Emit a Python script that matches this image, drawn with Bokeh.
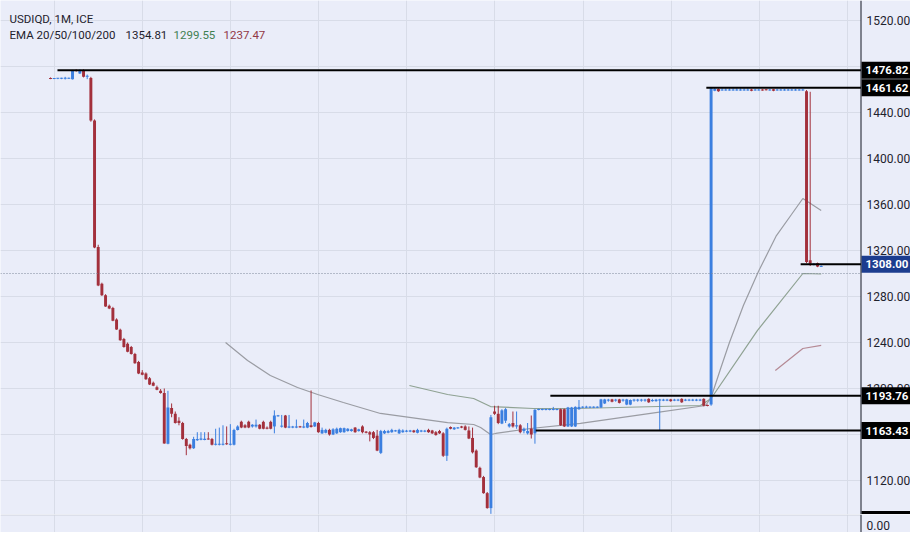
from bokeh.plotting import figure
from bokeh.models import Range1d, FixedTicker, Label, Span, ColumnDataSource
from bokeh.core.properties import value
from bokeh.layouts import column
from bokeh.embed import file_html
from bokeh.resources import INLINE

# ---------------- data (monthly USDIQD candles) ----------------
opens = [
    1470.0, 1469.3, 1469.5, 1469.5, 1469.5, 1469.6, 1469.0, 1477.0, 1474.0, 1477.0,
    1471.0, 1470.0, 1433.0, 1323.0, 1291.0, 1281.0, 1272.0, 1270.0, 1260.0, 1251.0,
    1243.0, 1239.0, 1236.0, 1230.0, 1223.0, 1214.0, 1213.0, 1209.0, 1205.0, 1201.0,
    1198.0, 1196.0, 1152.0, 1183.0, 1178.0, 1172.0, 1170.0, 1156.0, 1151.0, 1148.0,
    1155.0, 1155.5, 1155.5, 1156.5, 1156.0, 1151.0, 1151.0, 1151.0, 1152.5, 1151.0,
    1151.0, 1164.0, 1171.0, 1168.0, 1171.0, 1167.0, 1167.0, 1168.5, 1171.0, 1166.0,
    1171.0, 1167.0, 1176.0, 1167.0, 1176.5, 1166.0, 1166.0, 1166.0, 1167.0, 1166.0,
    1166.0, 1168.0, 1167.0, 1170.0, 1161.0, 1161.5, 1164.0, 1160.0, 1161.0, 1162.0,
    1162.0, 1163.0, 1163.0, 1166.0, 1163.0, 1167.0, 1162.5, 1162.0, 1162.0, 1159.0,
    1144.0, 1161.0, 1161.5, 1162.0, 1163.0, 1161.0, 1162.0, 1162.5, 1162.5, 1163.5,
    1161.5, 1162.5, 1162.5, 1164.0, 1163.5, 1162.0, 1163.0, 1161.0, 1141.5, 1166.5,
    1164.5, 1165.5, 1167.0, 1167.0, 1163.5, 1157.0, 1146.0, 1131.0, 1123.0, 1109.0,
    1096.0, 1180.0, 1178.0, 1169.5, 1172.0, 1167.0, 1170.0, 1167.0, 1168.0, 1163.0,
    1161.0, 1165.0, 1161.0, 1181.5, 1181.5, 1181.5, 1181.5, 1181.5, 1181.5, 1182.0,
    1182.0, 1167.0, 1167.0, 1167.0, 1182.0, 1183.5, 1183.5, 1183.5, 1183.5, 1183.5,
    1183.5, 1187.0, 1189.5, 1190.5, 1189.5, 1190.5, 1189.5, 1186.0, 1186.0, 1189.5,
    1189.5, 1189.5, 1189.5, 1191.0, 1189.0, 1189.0, 1189.5, 1189.5, 1189.5, 1190.5,
    1189.5, 1189.5, 1191.0, 1189.5, 1189.5, 1189.5, 1189.5, 1189.5, 1191.0, 1185.5,
    1186.0, 1459.0, 1460.5, 1459.2, 1459.2, 1459.2, 1459.2, 1459.2, 1459.2, 1459.2,
    1459.2, 1460.0, 1459.3, 1459.3, 1460.0, 1460.0, 1459.3, 1460.2, 1459.3, 1459.3,
    1459.3, 1459.3, 1459.3, 1459.3, 1459.3, 1459.3, 1458.5, 1311.5, 1307.5, 1309.0,
    1306.0,
]
highs = [
    1470.5, 1470.0, 1470.0, 1470.2, 1471.0, 1470.3, 1477.0, 1477.5, 1477.5, 1477.5,
    1473.0, 1471.0, 1434.0, 1325.0, 1292.0, 1282.0, 1273.0, 1271.0, 1261.0, 1252.0,
    1244.0, 1240.0, 1237.0, 1231.0, 1224.0, 1216.0, 1214.0, 1210.0, 1206.0, 1202.5,
    1199.5, 1200.0, 1198.0, 1187.0, 1180.0, 1175.0, 1171.0, 1157.0, 1152.0, 1158.0,
    1162.0, 1162.0, 1162.0, 1162.0, 1157.0, 1165.0, 1166.0, 1168.0, 1167.0, 1169.0,
    1165.0, 1168.0, 1172.0, 1169.0, 1172.0, 1169.0, 1173.0, 1169.0, 1172.0, 1167.0,
    1172.0, 1181.0, 1177.0, 1177.0, 1177.0, 1177.0, 1167.5, 1173.0, 1167.5, 1173.0,
    1171.0, 1198.3, 1171.0, 1171.0, 1166.0, 1165.0, 1165.0, 1165.5, 1166.0, 1166.0,
    1166.0, 1165.5, 1165.0, 1166.5, 1165.0, 1168.0, 1163.0, 1163.0, 1163.0, 1164.0,
    1164.0, 1164.0, 1164.0, 1165.0, 1164.0, 1165.0, 1164.5, 1164.0, 1164.0, 1164.0,
    1165.0, 1164.0, 1164.0, 1165.0, 1164.0, 1163.0, 1164.0, 1162.0, 1166.0, 1167.0,
    1166.5, 1166.5, 1167.5, 1168.0, 1167.0, 1166.0, 1147.0, 1132.0, 1124.0, 1110.0,
    1177.0, 1185.0, 1185.0, 1182.0, 1183.0, 1170.0, 1180.0, 1180.0, 1169.0, 1166.0,
    1170.0, 1176.5, 1182.0, 1182.5, 1182.5, 1182.5, 1182.5, 1184.0, 1182.5, 1182.5,
    1182.5, 1184.0, 1184.0, 1184.5, 1190.0, 1184.5, 1185.0, 1184.5, 1184.5, 1184.5,
    1191.0, 1191.0, 1191.0, 1191.0, 1191.0, 1191.0, 1191.0, 1191.0, 1190.5, 1191.0,
    1191.0, 1191.0, 1191.0, 1191.5, 1191.0, 1191.0, 1191.0, 1191.0, 1191.0, 1191.0,
    1191.0, 1191.0, 1191.5, 1191.0, 1191.0, 1191.0, 1191.0, 1191.0, 1191.5, 1186.0,
    1462.0, 1462.0, 1461.0, 1461.0, 1461.0, 1461.0, 1461.0, 1461.0, 1461.0, 1461.0,
    1461.0, 1460.5, 1460.5, 1460.5, 1460.3, 1460.3, 1460.5, 1460.5, 1460.5, 1460.5,
    1460.5, 1460.5, 1460.5, 1460.5, 1460.5, 1460.5, 1459.5, 1458.0, 1309.0, 1309.5,
    1307.0,
]
lows = [
    1469.0, 1469.0, 1469.0, 1469.0, 1468.7, 1469.2, 1468.7, 1475.5, 1473.5, 1470.5,
    1469.0, 1432.0, 1322.0, 1289.0, 1280.5, 1271.0, 1269.0, 1258.5, 1251.0, 1241.5,
    1235.5, 1231.5, 1229.5, 1221.5, 1212.5, 1211.5, 1207.5, 1203.0, 1202.0, 1198.5,
    1195.5, 1152.0, 1151.5, 1175.0, 1169.5, 1168.0, 1155.5, 1142.0, 1147.0, 1147.5,
    1154.5, 1155.0, 1155.0, 1155.5, 1150.5, 1150.5, 1150.5, 1150.5, 1151.0, 1150.5,
    1150.5, 1163.5, 1165.5, 1165.5, 1165.5, 1166.0, 1166.0, 1164.5, 1164.5, 1164.5,
    1164.5, 1161.0, 1175.5, 1166.0, 1165.5, 1165.5, 1165.5, 1165.5, 1166.0, 1165.5,
    1165.5, 1166.0, 1166.5, 1161.5, 1160.5, 1161.0, 1159.0, 1159.5, 1160.5, 1161.5,
    1161.5, 1162.5, 1162.5, 1161.5, 1162.5, 1161.0, 1161.0, 1154.0, 1156.0, 1145.5,
    1143.0, 1160.5, 1161.0, 1161.5, 1162.5, 1160.5, 1161.5, 1162.0, 1162.0, 1161.5,
    1161.0, 1162.0, 1162.0, 1161.5, 1160.5, 1159.0, 1160.5, 1140.5, 1137.0, 1164.5,
    1164.0, 1165.0, 1165.5, 1163.5, 1156.0, 1143.5, 1131.0, 1122.0, 1108.5, 1095.5,
    1091.0, 1177.0, 1169.0, 1169.0, 1170.0, 1166.0, 1166.0, 1165.0, 1161.0, 1161.0,
    1160.0, 1156.5, 1152.0, 1181.0, 1181.0, 1181.0, 1181.0, 1181.0, 1181.0, 1167.5,
    1166.5, 1166.5, 1166.5, 1166.5, 1181.5, 1183.0, 1183.0, 1183.0, 1183.0, 1183.0,
    1183.0, 1186.5, 1188.5, 1188.0, 1188.5, 1187.0, 1188.5, 1185.5, 1185.5, 1188.5,
    1188.5, 1188.5, 1188.5, 1187.5, 1188.5, 1188.5, 1163.5, 1189.0, 1189.0, 1188.5,
    1189.0, 1189.0, 1187.5, 1189.0, 1189.0, 1189.0, 1189.0, 1189.0, 1184.5, 1184.5,
    1185.0, 1458.5, 1458.0, 1459.0, 1459.0, 1459.0, 1459.0, 1459.0, 1459.0, 1459.0,
    1459.0, 1458.5, 1459.0, 1459.0, 1459.0, 1459.2, 1459.0, 1458.5, 1459.0, 1459.0,
    1459.0, 1459.0, 1459.0, 1459.0, 1459.0, 1459.0, 1309.0, 1306.5, 1307.0, 1305.5,
    1305.8,
]
closes = [
    1469.3, 1469.8, 1469.9, 1470.0, 1470.0, 1470.1, 1476.5, 1476.0, 1476.8, 1471.0,
    1472.0, 1433.0, 1322.6, 1289.6, 1281.0, 1271.3, 1269.6, 1259.0, 1251.3, 1242.0,
    1236.0, 1232.0, 1230.0, 1222.0, 1213.0, 1212.0, 1208.0, 1203.5, 1202.5, 1199.0,
    1196.0, 1152.2, 1183.5, 1178.0, 1170.0, 1170.0, 1156.0, 1150.0, 1148.0, 1156.0,
    1156.0, 1156.5, 1156.0, 1155.8, 1151.0, 1152.0, 1152.0, 1152.0, 1151.5, 1152.0,
    1164.0, 1167.0, 1166.0, 1166.0, 1166.0, 1168.5, 1168.5, 1165.0, 1165.0, 1165.0,
    1165.0, 1176.5, 1176.5, 1167.5, 1166.0, 1167.0, 1167.0, 1167.0, 1166.3, 1167.0,
    1170.0, 1166.5, 1170.5, 1162.0, 1164.0, 1164.0, 1160.0, 1164.5, 1165.0, 1165.5,
    1165.5, 1165.0, 1164.5, 1162.0, 1164.5, 1162.0, 1161.5, 1160.0, 1157.0, 1146.0,
    1163.0, 1163.0, 1163.0, 1164.0, 1163.3, 1164.0, 1163.5, 1163.3, 1163.5, 1162.0,
    1164.0, 1163.5, 1163.3, 1162.0, 1161.0, 1159.5, 1161.0, 1141.5, 1165.0, 1165.0,
    1166.0, 1166.0, 1166.0, 1164.0, 1156.5, 1144.5, 1131.5, 1122.6, 1109.0, 1096.0,
    1175.0, 1178.0, 1170.0, 1181.0, 1182.0, 1169.0, 1167.0, 1168.0, 1162.0, 1165.0,
    1163.0, 1160.0, 1181.5, 1182.0, 1182.0, 1182.0, 1182.0, 1182.0, 1182.0, 1168.0,
    1167.0, 1183.5, 1183.5, 1184.0, 1184.0, 1184.0, 1184.0, 1184.0, 1184.0, 1184.0,
    1190.5, 1190.5, 1190.3, 1188.5, 1190.3, 1187.5, 1190.3, 1190.5, 1190.0, 1190.3,
    1190.3, 1190.3, 1190.3, 1188.0, 1190.0, 1190.3, 1190.5, 1190.3, 1190.3, 1189.0,
    1190.3, 1190.3, 1188.0, 1190.3, 1190.3, 1190.3, 1190.3, 1190.3, 1185.0, 1185.0,
    1461.0, 1460.5, 1458.5, 1460.0, 1460.0, 1460.0, 1460.0, 1460.0, 1460.0, 1460.0,
    1460.0, 1459.0, 1460.0, 1460.0, 1459.3, 1459.5, 1460.0, 1459.0, 1460.0, 1460.0,
    1460.0, 1460.0, 1460.0, 1460.0, 1460.0, 1460.0, 1310.0, 1308.5, 1308.5, 1306.0,
    1306.3,
]

# EMA lines (bar index, value) as drawn
ema50_x = [47.7, 53.7, 59.9, 67.3, 72.8, 79.8, 89.9, 108.2, 115.3, 117.2, 119.9, 121.3,
           130.8, 144.4, 163.5, 178.5, 180, 182.6, 185.0, 188.8, 192.9, 197.8, 201.9, 205, 210]
ema50_y = [1240.0, 1224.3, 1211.3, 1200.9, 1194.8, 1187.8, 1178.3, 1170.4, 1168.7, 1166.1,
           1160.0, 1160.9, 1165.2, 1169.6, 1178.3, 1185.2, 1192.2, 1217.4, 1240.0, 1272.2,
           1301.7, 1333.0, 1351.3, 1365.2, 1354.81]
ema100_x = [97.8, 108.2, 115.3, 119.9, 131.6, 143.1, 177.1, 180, 192.6, 205, 210]
ema100_y = [1202.6, 1194.8, 1191.3, 1184.3, 1182.6, 1182.6, 1185.2, 1191.3, 1250.4, 1300.0, 1299.55]
ema200_x = [197.5, 205, 210]
ema200_y = [1215.7, 1234.8, 1237.47]

# horizontal levels drawn on the chart (value, first bar index)
level_values = [1476.82, 1461.62, 1308.00, 1193.76, 1163.43]
level_starts = [1.9, 178.7, 204.4, 136.2, 132.2]
level_box_colors = ["#000000", "#000000", "#1c3d8f", "#000000", "#000000"]
low_level = 1086.0
last_price = 1300.0

price_ticks = [1120, 1160, 1200, 1240, 1280, 1320, 1360, 1400, 1440, 1480, 1520]
time_grid = [1.1, 25.1, 49.1, 73.1, 97.1, 121.1, 145.1, 169.1, 193.1, 217.1]

title_text = "USDIQD, 1M, ICE"
ema_title = "EMA 20/50/100/200"
ema_last = ["1354.81", "1299.55", "1237.47"]

# ---------------- styling ----------------
BG = "#eaedf9"
GRID = "#d8dce8"
UP = "#3b7fe0"
DOWN = "#a3303c"
TEXT = "#1e222d"
AXIS = "#131722"
FONT = "Roboto"

W, H_TOP, H_BOT = 910, 514, 18
X0, DX = 50.0, 3.67            # pixel of bar 0, pixels per bar
def px_x(px):
    return (px - X0) / DX
def px_y(py):
    return 1520 - (py - 20) / 1.15
U = 1 / 1.15                   # price units per pixel

x_rng = Range1d(px_x(0), px_x(W))
AX = px_x(860.5)               # price-scale border
LBL = px_x(866)                # price-scale text start

def base_fig(h, yr):
    f = figure(frame_width=W, frame_height=h, x_range=x_rng, y_range=yr,
               x_axis_location=None, y_axis_location=None,
               output_backend="svg", toolbar_location=None,
               min_border=0, min_border_left=0, min_border_right=0,
               min_border_top=0, min_border_bottom=0,
               background_fill_color=BG, border_fill_color=BG, outline_line_color=None)
    f.xgrid.ticker = FixedTicker(ticks=time_grid)
    f.xgrid.grid_line_color = GRID
    f.ygrid.visible = False
    f.add_layout(Span(location=AX, dimension="height", line_color=AXIS, line_width=1))
    return f

p = base_fig(H_TOP, Range1d(px_y(H_TOP), px_y(0)))

# horizontal grid (chart area only)
p.segment(x0=[px_x(0)] * len(price_ticks), x1=[AX] * len(price_ticks),
          y0=price_ticks, y1=price_ticks, line_color=GRID, line_width=1)

# EMA lines
p.line(ema50_x, ema50_y, line_color="#9a9ca3", line_width=1.2)
p.line(ema100_x, ema100_y, line_color="#8fa293", line_width=1.2)
p.line(ema200_x, ema200_y, line_color="#b58a95", line_width=1.2)

# candles
n = len(opens)
idx = list(range(n))
colors = [UP if c >= o else DOWN for o, c in zip(opens, closes)]
tops, bots = [], []
for o, c in zip(opens, closes):
    hi, lo = max(o, c), min(o, c)
    if hi - lo < 0.9:
        mid = (hi + lo) / 2
        hi, lo = mid + 0.45, mid - 0.45
    tops.append(hi)
    bots.append(lo)
src = ColumnDataSource(dict(x=idx, h=highs, l=lows, t=tops, b=bots, c=colors))
p.segment(x0="x", y0="h", x1="x", y1="l", line_color="c", line_width=1, source=src)
p.vbar(x="x", width=0.8, top="t", bottom="b", fill_color="c", line_color=None, source=src)

# drawn horizontal levels and last-price line
p.segment(x0=level_starts, y0=level_values, x1=[AX] * len(level_values), y1=level_values,
          line_color="black", line_width=2)
p.segment(x0=[px_x(0)], y0=[last_price], x1=[AX], y1=[last_price],
          line_color="#7d8799", line_dash="1 2", line_width=1)

# price scale: tick labels
p.text(x=[LBL] * len(price_ticks), y=price_ticks, text=[f"{t:.2f}" for t in price_ticks],
       text_font=value(FONT), text_font_size="12px", text_color=TEXT,
       text_baseline="middle", text_align="left")

# price scale: level boxes
p.quad(left=[px_x(861)] * len(level_values), right=[px_x(920)] * len(level_values),
       top=[v + 8.5 * U for v in level_values], bottom=[v - 8.5 * U for v in level_values],
       fill_color=level_box_colors, line_color=None)
p.text(x=[px_x(865)] * len(level_values), y=level_values,
       text=[f"{v:.2f}" for v in level_values],
       text_font=value(FONT), text_font_size="11.5px", text_font_style="bold",
       text_color="white", text_baseline="middle", text_align="left")
# low box, mostly hidden below the pane edge
p.quad(left=[px_x(861)], right=[px_x(920)], top=[low_level + 8.5 * U],
       bottom=[low_level - 8.5 * U], fill_color="#000000", line_color=None)

# legend texts
p.add_layout(Label(x=px_x(9), y=px_y(18), text=title_text, text_color=TEXT,
                   text_font=FONT, text_font_size="11.5px",
                   text_baseline="middle", text_align="left"))
p.add_layout(Label(x=px_x(9), y=px_y(34), text=ema_title, text_color=TEXT,
                   text_font=FONT, text_font_size="11.5px",
                   text_baseline="middle", text_align="left"))
for px, txt, col in zip([125, 173, 223], ema_last, [TEXT, "#3f8052", "#923846"]):
    p.add_layout(Label(x=px_x(px), y=px_y(34), text=txt, text_color=col,
                       text_font=FONT, text_font_size="11.5px",
                       text_baseline="middle", text_align="left"))

# lower (volume) pane: y in pixels below its top edge, 0 value 11 px down
q = base_fig(H_BOT, Range1d(-7, 11))
q.segment(x0=[px_x(0)], y0=[10.5], x1=[AX], y1=[10.5], line_color="#cdd1dc", line_width=1)
q.text(x=[LBL], y=[0], text=["0.00"], text_font=value(FONT), text_font_size="12px",
       text_color=TEXT, text_baseline="middle", text_align="left")

layout = column(p, q, spacing=0)
open("out.html", "w").write(file_html(layout, INLINE))
